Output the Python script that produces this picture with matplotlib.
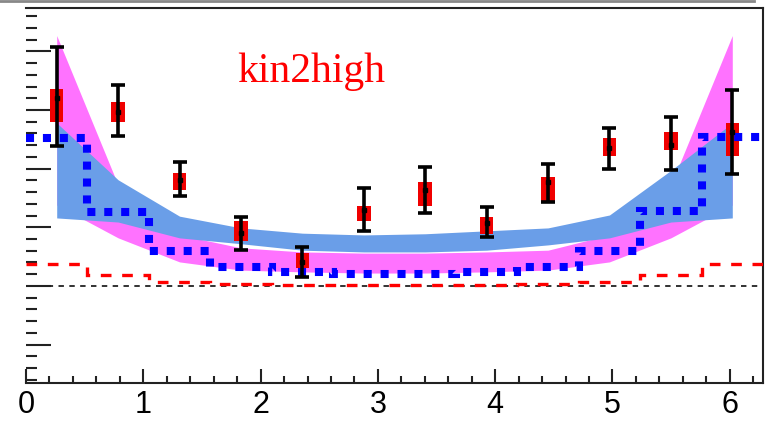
import numpy as np
import matplotlib.pyplot as plt
from matplotlib.ticker import MultipleLocator

# Бины по углу 0..2pi
edges = np.linspace(0, 2 * np.pi, 13)
centers = (edges[:-1] + edges[1:]) / 2

# Точки данных (красные), стат. ошибки и систематика (прямоугольники)
data_y = np.array([0.320, 0.297, 0.181, 0.091, 0.041, 0.130, 0.163, 0.108, 0.177, 0.235, 0.241, 0.263])
err_top = np.array([0.407, 0.343, 0.212, 0.118, 0.066, 0.167, 0.202, 0.135, 0.208, 0.270, 0.288, 0.334])
err_bot = np.array([0.238, 0.255, 0.154, 0.061, 0.015, 0.094, 0.125, 0.084, 0.144, 0.200, 0.198, 0.191])
box_top = np.array([0.336, 0.313, 0.193, 0.111, 0.057, 0.137, 0.177, 0.117, 0.185, 0.252, 0.263, 0.278])
box_bot = np.array([0.279, 0.279, 0.163, 0.077, 0.030, 0.111, 0.137, 0.089, 0.143, 0.221, 0.232, 0.222])

# Гистограммы: синяя пунктирная и красная штриховая
blue_hist = [0.253, 0.126, 0.060, 0.033, 0.023, 0.020, 0.020, 0.024, 0.033, 0.060, 0.127, 0.254]
red_hist = [0.037, 0.019, 0.007, 0.0035, 0.0015, 0.0015, 0.0015, 0.0015, 0.003, 0.006, 0.019, 0.037]

# Полосы (синяя и розовая)
blue_hi = [0.278, 0.181, 0.119, 0.099, 0.090, 0.087, 0.089, 0.094, 0.099, 0.121, 0.197, 0.278]
blue_lo = [0.116, 0.109, 0.082, 0.072, 0.061, 0.058, 0.058, 0.061, 0.070, 0.082, 0.109, 0.116]
pink_hi = [0.427, 0.172, 0.087, 0.065, 0.058, 0.056, 0.056, 0.058, 0.061, 0.087, 0.172, 0.427]
pink_lo = [0.138, 0.082, 0.041, 0.027, 0.024, 0.022, 0.022, 0.024, 0.027, 0.041, 0.082, 0.138]

x_ticks = [0, 1, 2, 3, 4, 5, 6]

fig = plt.figure(figsize=(7.65, 4.21), dpi=100)
ax = fig.add_axes([26 / 765, 38 / 421, 737 / 765, 375 / 421])

ax.fill_between(centers, pink_lo, pink_hi, color='#ff72ff', lw=0, zorder=1)
ax.fill_between(centers, blue_lo, blue_hi, color='#6a9ee8', lw=0, zorder=2)

ax.axhline(0, color='#222222', lw=1.3, ls=(0, (3, 3)), zorder=3)
ax.stairs(red_hist, edges, baseline=None, color='red', lw=2.4, ls=(0, (3.2, 3.2)), zorder=4)

ax.bar(centers, box_top - box_bot, bottom=box_bot, width=0.115, color='#f00000', lw=0, zorder=5)
ax.stairs(blue_hist, edges, baseline=None, color='#0000ff', lw=5.8, ls=(0, (1, 1.1)), zorder=6)

ax.errorbar(centers, data_y, yerr=[data_y - err_bot, err_top - data_y], fmt='s', ms=3,
            color='black', elinewidth=2.6, capsize=5, capthick=2.6, zorder=7)

ax.text(1.80, 0.348, 'kin2high', color='red', fontsize=30, family='Liberation Serif', va='baseline')

ax.set_xlim(0, 2 * np.pi)
ax.set_ylim(-0.1655, 0.474)
ax.set_xticks(x_ticks)
ax.set_xticklabels([str(t) for t in x_ticks], fontsize=22, family='Liberation Sans')
ax.xaxis.set_minor_locator(MultipleLocator(0.2))
ax.yaxis.set_major_locator(MultipleLocator(0.1))
ax.yaxis.set_minor_locator(MultipleLocator(0.02))
ax.set_yticklabels([])
ax.tick_params(axis='x', which='major', direction='in', length=10, width=1.5, pad=5, color='#222222')
ax.tick_params(axis='x', which='minor', direction='in', length=5, width=1.5, color='#222222')
ax.tick_params(axis='y', which='major', direction='in', length=18, width=1.5, color='#222222')
ax.tick_params(axis='y', which='minor', direction='in', length=8, width=1.5, color='#222222')
ax.tick_params(top=False, right=False)
ax.spines['left'].set_visible(False)
for s in ['bottom', 'top', 'right']:
    ax.spines[s].set_linewidth(1.5)
    ax.spines[s].set_color('#222222')

fig.add_artist(plt.Line2D([0, 0.985], [0.998, 0.998], color='#888888', lw=2, transform=fig.transFigure))

fig.savefig('out.png', dpi=100)
